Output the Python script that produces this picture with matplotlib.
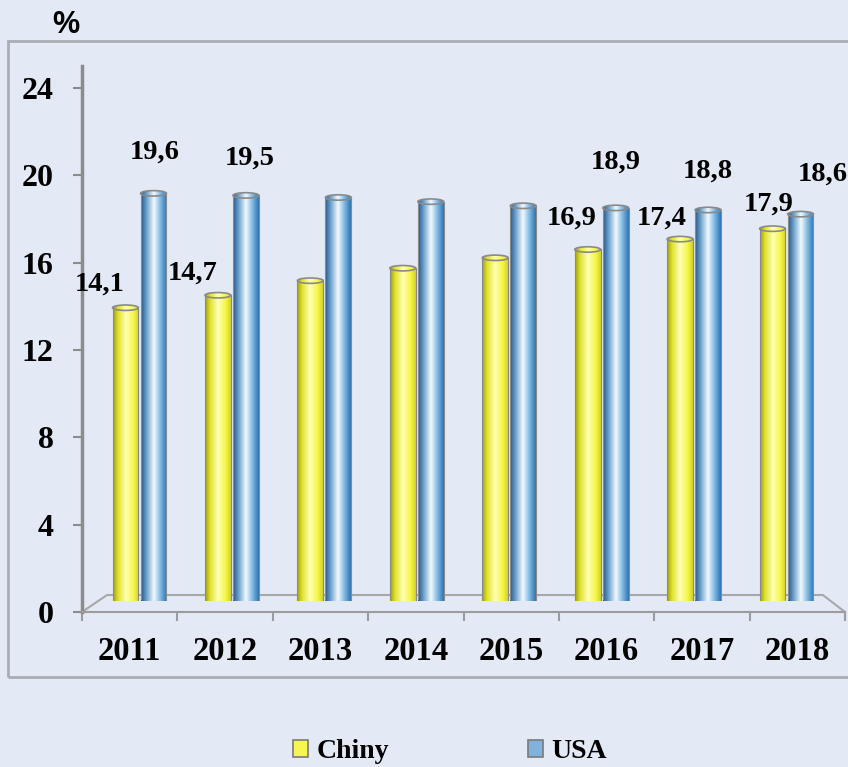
import numpy as np
import matplotlib
matplotlib.use('Agg')
import matplotlib.pyplot as plt
from matplotlib.colors import LinearSegmentedColormap
from matplotlib.patches import Rectangle, Ellipse, Patch

# ---------------- data ----------------
years = ['2011', '2012', '2013', '2014', '2015', '2016', '2017', '2018']
chiny = [14.1, 14.7, 15.4, 16.0, 16.5, 16.9, 17.4, 17.9]
usa = [19.6, 19.5, 19.4, 19.2, 19.0, 18.9, 18.8, 18.6]
series_names = ['Chiny', 'USA']
y_ticks = [0, 4, 8, 12, 16, 20, 24]
labeled_idx = [0, 1, 5, 6, 7]

# ---------------- style ----------------
plt.rcParams['font.family'] = ['Liberation Serif', 'DejaVu Serif']
plt.rcParams['font.weight'] = 'bold'

W, H = 848, 767
BG = '#e3eaf5'
fig = plt.figure(figsize=(W / 100, H / 100), dpi=100, facecolor=BG)


def fx(px):
    return px / W


def fy(py):
    return 1 - py / H


# outer frame box
fig.add_artist(Rectangle((fx(8), fy(677)), 1.0, (677 - 41) / H,
                         transform=fig.transFigure, fill=False,
                         edgecolor='#a9aeb5', lw=2))

# "%" unit label
fig.text(fx(66), fy(25), '%', fontsize=22, fontweight='bold',
         family=['Liberation Sans', 'DejaVu Sans'], ha='center', va='center')

# ---------------- main axes (ticks / axis lines) ----------------
ax = fig.add_axes([fx(82), fy(612), (845 - 82) / W, (612 - 66.2) / H])
ax.set_facecolor('none')
ax.set_xlim(-0.5, 7.5)
ax.set_ylim(0, 25)
for s in ['top', 'right']:
    ax.spines[s].set_visible(False)
ax.spines['left'].set_color('#8c8c8c')
ax.spines['left'].set_linewidth(2.5)
ax.spines['bottom'].set_color('#9c9c9c')
ax.spines['bottom'].set_linewidth(1.5)
ax.set_yticks(y_ticks)
ax.set_yticklabels([str(t) for t in y_ticks])
ax.tick_params(axis='y', length=6.5, width=1.5, color='#8c8c8c', pad=14,
               labelsize=23)
ax.set_xticks(range(len(years)))
ax.set_xticklabels(years)
ax.set_xticks(np.arange(-0.5, len(years) + 0.5, 1), minor=True)
ax.tick_params(axis='x', which='major', length=0, pad=17, labelsize=23.5)
ax.tick_params(axis='x', which='minor', length=6.5, width=1.5,
               color='#9c9c9c')

# 3D floor outline
ax.plot([0, 0.0328, 0.971, 1.0], [0, 0.0311, 0.0311, 0],
        transform=ax.transAxes, color='#a8a8a8', lw=1.5, clip_on=False)

# ---------------- bar axes (perspective mid-depth plane) ----------------
axb = fig.add_axes([fx(94.5), fy(601), (834 - 94.5) / W, 25 * 20.8 / H])
axb.set_facecolor('none')
axb.axis('off')

x = np.arange(len(years))
w = 0.28
off_c, off_u = -0.165, 0.138

yellow_cmap = LinearSegmentedColormap.from_list(
    'yel', [(0, '#9c9c10'), (0.2, '#e2e22e'), (0.5, '#ffffb4'),
            (0.8, '#f6f648'), (1, '#d2d226')])
blue_cmap = LinearSegmentedColormap.from_list(
    'blu', [(0, '#245888'), (0.22, '#6ea2cd'), (0.5, '#f2f9ff'),
            (0.75, '#80b9e2'), (1, '#2a74b4')])

grad = np.linspace(0, 1, 256).reshape(1, -1)
cap_h = 0.26

bars_c = axb.bar(x + off_c, chiny, width=w)
bars_u = axb.bar(x + off_u, usa, width=w)


def style_bars(container, cmap):
    for rect in container:
        x0 = rect.get_x()
        bw = rect.get_width()
        h = rect.get_height()
        xc = x0 + bw / 2
        im = axb.imshow(grad, extent=[x0, x0 + bw, 0, h], cmap=cmap,
                        aspect='auto', interpolation='bilinear', zorder=2)
        im.set_clip_path(rect)
        rect.set_facecolor('none')
        rect.set_edgecolor('#8a8a8a')
        rect.set_linewidth(0.8)
        rect.set_zorder(3)
        # bottom cap
        eb = Ellipse((xc, 0), bw, cap_h, fc='none', ec='none', zorder=3.5)
        axb.add_patch(eb)
        imb = axb.imshow(grad, extent=[x0, x0 + bw, -cap_h, cap_h], cmap=cmap,
                         aspect='auto', interpolation='bilinear', zorder=3.5)
        imb.set_clip_path(eb)
        # top cap
        et = Ellipse((xc, h), bw, cap_h, fc='none', ec='none', zorder=4)
        axb.add_patch(et)
        imt = axb.imshow(grad, extent=[x0, x0 + bw, h - cap_h, h + cap_h],
                         cmap=cmap, aspect='auto', interpolation='bilinear',
                         zorder=4)
        imt.set_clip_path(et)
        axb.add_patch(Ellipse((xc, h), bw, cap_h, fc='none', ec='#8a8a8a',
                              lw=1.2, zorder=4.5))


style_bars(bars_c, yellow_cmap)
style_bars(bars_u, blue_cmap)

axb.set_xlim(-0.5, 7.5)
axb.set_ylim(0, 25)


def fmt(v):
    return f'{v:.1f}'.replace('.', ',')


# value labels (offsets in pixels from top of each bar)
off_lab_c = {0: (-25.5, 24), 1: (-25, 22), 5: (-15.5, 31), 6: (-18, 21), 7: (-4, 25)}
off_lab_u = {0: (1.5, 41), 1: (4, 37), 5: (0.5, 46), 6: (0, 39), 7: (22, 40)}
for i in labeled_idx:
    axb.annotate(fmt(chiny[i]), (x[i] + off_c, chiny[i]),
                 xytext=off_lab_c[i], textcoords='offset pixels',
                 ha='center', va='center', fontsize=20.5, fontweight='bold',
                 annotation_clip=False, zorder=6)
    axb.annotate(fmt(usa[i]), (x[i] + off_u, usa[i]),
                 xytext=off_lab_u[i], textcoords='offset pixels',
                 ha='center', va='center', fontsize=20.5, fontweight='bold',
                 annotation_clip=False, zorder=6)

# ---------------- legend ----------------
handles = [Patch(facecolor='#f6f650', edgecolor='#7a7a7a', lw=1.2),
           Patch(facecolor='#7fb3de', edgecolor='#7a7a7a', lw=1.2)]
fig.legend(handles=handles, labels=series_names, ncol=2, loc='center',
           bbox_to_anchor=(fx(450), fy(752)), frameon=False, fontsize=20,
           handlelength=0.55, handleheight=0.55, handletextpad=0.3,
           columnspacing=5.0)

fig.savefig('out.png', dpi=100, facecolor=BG)
